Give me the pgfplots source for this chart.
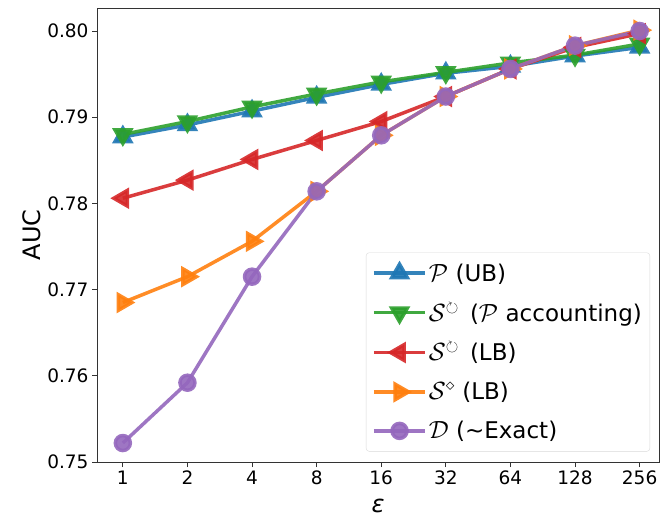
\documentclass[border=0pt]{standalone}
\usepackage{fontspec}
\setmainfont{DejaVu Sans}
\usepackage{amssymb}
\usepackage{pgfplots}
\pgfplotsset{compat=1.18}
\definecolor{tabblue}{HTML}{1F77B4}
\definecolor{tabgreen}{HTML}{2CA02C}
\definecolor{tabred}{HTML}{D62728}
\definecolor{taborange}{HTML}{FF7F0E}
\definecolor{tabpurple}{HTML}{9467BD}
\begin{document}
\begin{tikzpicture}
\begin{axis}[
    scale only axis,
    width=562pt, height=454pt,
    xmin=-0.4, xmax=8.3,
    ymin=0.75, ymax=0.80267,
    xtick={0,...,8},
    xticklabels={1,2,4,8,16,32,64,128,256},
    ytick={0.75,0.76,0.77,0.78,0.79,0.80},
    yticklabel style={/pgf/number format/.cd, fixed, fixed zerofill, precision=2},
    /pgf/number format/assume math mode=true,
    tick pos=left, tick align=outside,
    major tick length=5pt,
    axis line style={black!80, line width=0.8pt},
    tick style={black!80, line width=0.8pt},
    tick label style={font=\fontsize{18.5}{22}\selectfont},
    ylabel={AUC}, xlabel={\itshape ε},
    label style={font=\fontsize{24}{28}\selectfont},
    ylabel style={yshift=0pt},
    xlabel style={yshift=-8pt},
    every axis plot/.append style={line width=3.5pt, opacity=0.9},
    every mark/.append style={line width=0.4pt},
    legend cell align=left,
    legend style={at={(0.984,0.023)}, anchor=south east, draw=black!15,
        rounded corners=3pt, font=\fontsize{23}{27}\selectfont,
        row sep=16pt, inner xsep=6pt, inner ysep=9pt},
    legend image code/.code={
        \draw[mark repeat=2, mark phase=2] plot coordinates {(0cm,0cm) (0.9cm,0cm) (1.8cm,0cm)};},
]
\addplot[tabblue, mark=triangle*, mark size=9pt] coordinates {
(0,0.7877) (1,0.7891) (2,0.7907) (3,0.7923) (4,0.7938) (5,0.7951) (6,0.7959) (7,0.7971) (8,0.7981)};
\addlegendentry{$\mathcal{P}$ (UB)}
\addplot[tabgreen, mark=triangle*, mark size=9pt, mark options={rotate=180}] coordinates {
(0,0.7880) (1,0.7895) (2,0.7912) (3,0.7927) (4,0.7941) (5,0.7952) (6,0.7963) (7,0.7972) (8,0.7985)};
\addlegendentry{$\mathcal{S}^{\circlearrowright}$ \,($\mathcal{P}$ accounting)}
\addplot[tabred, mark=triangle*, mark size=9pt, mark options={rotate=90}] coordinates {
(0,0.7806) (1,0.7827) (2,0.7851) (3,0.7873) (4,0.7895) (5,0.7924) (6,0.7956) (7,0.7981) (8,0.7997)};
\addlegendentry{$\mathcal{S}^{\circlearrowright}$ \,(LB)}
\addplot[taborange, mark=triangle*, mark size=9pt, mark options={rotate=-90}] coordinates {
(0,0.7685) (1,0.7715) (2,0.7756) (3,0.7814) (4,0.7879) (5,0.7924) (6,0.7956) (7,0.7983) (8,0.8001)};
\addlegendentry{$\mathcal{S}^{\diamond}$ (LB)}
\addplot[tabpurple, mark=*, mark size=7.5pt] coordinates {
(0,0.7522) (1,0.7592) (2,0.7715) (3,0.7814) (4,0.7879) (5,0.7924) (6,0.7956) (7,0.7983) (8,0.8000)};
\addlegendentry{$\mathcal{D}$ (\textasciitilde Exact)}
\coordinate (sw) at (rel axis cs:0,0);
\coordinate (ne) at (rel axis cs:1,1);
\end{axis}
\pgfresetboundingbox
\path[use as bounding box] ([shift={(-97pt,-59pt)}]sw) rectangle ([shift={(1pt,8pt)}]ne);
\end{tikzpicture}
\end{document}
